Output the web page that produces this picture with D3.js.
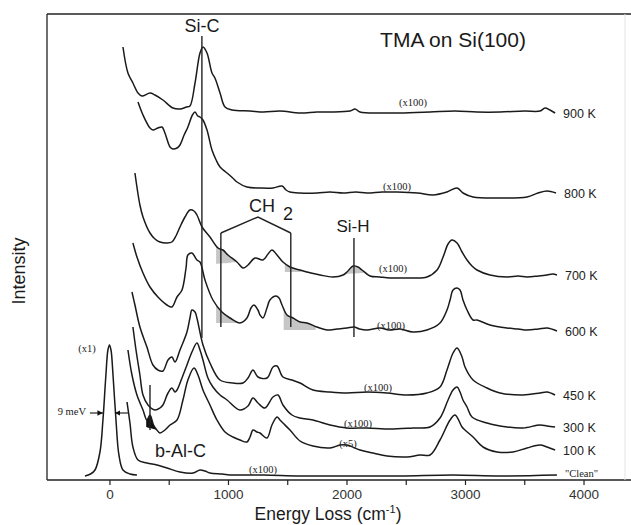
<!DOCTYPE html>
<html>
<head>
<meta charset="utf-8">
<script src="https://cdn.jsdelivr.net/npm/d3@7"></script>
<style>
  body { margin: 0; background: #fff; }
  svg { display: block; }
  .sans { font-family: "Liberation Sans", Arial, Helvetica, sans-serif; }
  .serif { font-family: "Liberation Serif", "Times New Roman", serif; }
</style>
</head>
<body>
<div id="chart"></div>
<script>
// HREELS spectra, [energy loss (cm-1), intensity (arb. units, stacked)]
const k900 = [[114,433],[156,407],[198,397],[241,387],[274,384],[342,387],[384,385],[451,380],[536,372],[595,371],[650,373],[679,374],[722,397],[764,427],[789,433],[823,427],[865,407],[890,402],[933,387],[975,373],[1034,370],[1186,369],[1300,368],[1439,369],[1608,367],[1750,368],[1861,368],[2030,369],[2072,371],[2114,368],[2300,367],[2452,367],[2705,368],[2916,369],[3100,368],[3296,368],[3500,369],[3633,369],[3675,372],[3717,370],[3760,367]];
const k800 = [[241,378],[283,365],[342,352],[367,350],[409,352],[443,353],[468,347],[511,333],[536,331],[570,332],[595,335],[630,345],[662,353],[700,365],[722,368],[745,364],[764,363],[789,360],[823,350],[865,330],[900,320],[933,313],[992,307],[1040,302],[1076,298],[1160,293],[1270,292],[1380,292],[1456,294],[1490,290],[1523,288],[1608,287],[1751,287],[1860,288],[1971,287],[2080,288],[2173,287],[2300,288],[2426,288],[2600,287],[2730,285],[2848,288],[2933,292],[2983,287],[3068,283],[3296,282],[3523,283],[3616,287],[3692,289],[3768,287]];
const k700 = [[215,307],[257,275],[283,263],[342,247],[384,241],[426,238],[485,237],[527,238],[561,244],[595,253],[637,263],[679,270],[713,269],[738,265],[781,253],[848,243],[916,232],[958,230],[1000,225],[1076,218],[1127,212],[1169,215],[1228,222],[1295,220],[1338,226],[1371,230],[1414,225],[1464,218],[1523,213],[1608,210],[1700,207],[1777,205],[1886,203],[1971,205],[2004,208],[2055,214],[2097,213],[2131,210],[2198,204],[2280,203],[2367,202],[2461,202],[2561,202],[2679,203],[2764,210],[2815,223],[2857,236],[2890,240],[2933,237],[2975,228],[3017,220],[3059,214],[3101,210],[3211,205],[3355,203],[3450,204],[3523,203],[3620,204],[3692,205],[3740,206],[3776,205]];
const k600 = [[198,237],[232,223],[283,207],[342,193],[409,183],[485,175],[527,173],[570,183],[612,190],[646,212],[662,225],[696,227],[738,220],[764,218],[806,200],[873,180],[949,168],[1017,162],[1101,157],[1160,162],[1194,172],[1219,175],[1253,170],[1270,165],[1295,162],[1329,172],[1354,180],[1405,184],[1431,182],[1456,175],[1498,165],[1549,162],[1608,158],[1667,157],[1750,153],[1836,150],[1920,151],[2004,152],[2063,153],[2110,151],[2173,150],[2283,152],[2360,150],[2452,151],[2561,148],[2679,150],[2789,157],[2848,170],[2874,180],[2899,190],[2933,192],[2958,190],[2983,180],[3017,170],[3068,160],[3101,160],[3211,155],[3355,152],[3450,151],[3523,150],[3620,151],[3692,152],[3776,149]];
const k450 = [[190,188],[215,175],[257,153],[316,133],[367,115],[409,110],[451,109],[494,120],[527,123],[553,118],[595,130],[654,148],[679,162],[696,170],[722,168],[738,162],[789,135],[848,117],[933,100],[1042,97],[1127,97],[1169,102],[1211,110],[1253,103],[1329,102],[1380,113],[1414,114],[1464,103],[1540,100],[1608,97],[1717,90],[1861,88],[2004,87],[2173,88],[2342,87],[2511,85],[2679,87],[2789,93],[2848,110],[2899,127],[2933,132],[2975,123],[3000,113],[3068,100],[3186,92],[3296,87],[3490,85],[3633,87],[3692,88],[3760,85]];
const k300 = [[198,153],[224,130],[257,105],[283,85],[325,75],[384,70],[426,72],[451,75],[494,87],[527,92],[553,88],[570,90],[612,102],[654,115],[696,128],[738,137],[764,130],[789,120],[831,102],[873,93],[933,85],[992,80],[1101,70],[1169,74],[1211,82],[1253,77],[1312,72],[1380,83],[1422,85],[1464,75],[1540,65],[1608,62],[1717,60],[1861,55],[2004,52],[2173,52],[2367,51],[2561,52],[2705,53],[2789,62],[2857,80],[2899,90],[2933,93],[2958,88],[2983,80],[3017,73],[3059,63],[3186,57],[3355,53],[3490,52],[3633,55],[3692,54],[3760,53]];
const k100 = [[156,130],[190,105],[232,85],[283,70],[316,60],[342,65],[372,55],[400,50],[426,47],[468,50],[511,55],[570,60],[620,80],[662,100],[713,112],[747,105],[789,90],[848,75],[907,60],[975,48],[1042,43],[1101,40],[1160,38],[1186,43],[1211,50],[1245,48],[1270,47],[1329,42],[1371,55],[1414,63],[1439,60],[1464,57],[1523,50],[1608,39],[1717,34],[1861,32],[1945,35],[2004,35],[2114,30],[2224,27],[2342,24],[2511,23],[2620,25],[2705,25],[2789,40],[2874,60],[2916,65],[2975,53],[3000,50],[3068,43],[3152,33],[3270,28],[3405,28],[3523,32],[3633,35],[3692,33],[3760,30]];
const kClean = [[148,78],[173,57],[198,33],[241,20],[316,17],[401,15],[485,12],[595,8],[705,7],[764,10],[806,9],[848,7],[950,6],[1042,5],[1300,5],[1608,4],[2000,4],[2452,4],[2900,5],[3296,4],[3776,5]];
const elastic = [[-207,4],[-160,6],[-122,10],[-80,28],[-55,60],[-30,105],[-13,130],[0,135],[13,130],[30,105],[55,60],[80,25],[114,10],[173,6],[232,5]];

const tempLabels = ["900 K", "800 K", "700 K", "600 K", "450 K", "300 K", "100 K", "\"Clean\""];
const gainLabels = ["(x100)", "(x100)", "(x100)", "(x100)", "(x100)", "(x100)", "(x5)", "(x100)"];
const seriesData = [k900, k800, k700, k600, k450, k300, k100, kClean];

// shaded peak areas: series index, from, to (cm-1), baseline intensity at both ends
const shades = [[2, 900, 1080, 216, 218], [2, 1480, 1620, 208, 208], [2, 1990, 2140, 206, 207],
                [3, 900, 1100, 157, 157], [3, 1470, 1740, 150, 150]];
const alcShade = [6, 310, 400, 53, 50];

// mode markers: energy, top, bottom
const modeLines = [[780, 444, 142], [940, 247, 153], [1530, 247, 153], [2063, 242, 143], [342, 95, 50]];
const ch2Bracket = [[940, 247], [1253, 263], [1530, 247]];
const xTicks = [0, 500, 1000, 1500, 2000, 2500, 3000, 3500, 4000];

const width = 631, height = 525;
const x = d3.scaleLinear().domain([-527, 4350]).range([47, 625]);
const y = d3.scaleLinear().domain([0, 466]).range([480, 14]);

const svg = d3.select("#chart").append("svg")
    .attr("width", width)
    .attr("height", height);

svg.append("defs").append("marker")
    .attr("id", "arrow")
    .attr("viewBox", "0 0 10 10")
    .attr("refX", 10).attr("refY", 5)
    .attr("markerWidth", 5).attr("markerHeight", 5)
    .attr("orient", "auto")
    .append("path")
    .attr("d", "M0,0L10,5L0,10z")
    .attr("fill", "#111");

// frame
const frame = svg.append("g").attr("stroke", "#222").attr("stroke-width", 1.3);
frame.append("line").attr("x1", x.range()[0]).attr("x2", x.range()[0]).attr("y1", y.range()[1]).attr("y2", y(0));
frame.append("line").attr("x1", x.range()[0]).attr("x2", width).attr("y1", y.range()[1]).attr("y2", y.range()[1]);
frame.append("line").attr("x1", x.range()[0]).attr("x2", width).attr("y1", y(0)).attr("y2", y(0));
svg.append("line").attr("x1", x.range()[1]).attr("x2", x.range()[1]).attr("y1", y.range()[1]).attr("y2", y(0))
    .attr("stroke", "#e4e4e4");

// x axis
svg.append("g")
    .attr("transform", `translate(0,${y(0)})`)
    .call(d3.axisBottom(x).tickValues(xTicks).tickSize(5).tickPadding(4)
        .tickFormat(d => d % 1000 === 0 ? d : ""))
    .call(g => g.select(".domain").remove())
    .call(g => g.selectAll(".tick line").attr("stroke", "#222").attr("stroke-width", 1.2))
    .call(g => g.selectAll(".tick text").attr("class", "sans")
        .attr("font-size", 13.5).attr("fill", "#333"));

const interp = (data, e) => {
    for (let i = 1; i < data.length; i++) {
        if (data[i][0] >= e) {
            const a = data[i - 1], b = data[i];
            return a[1] + (b[1] - a[1]) * (e - a[0]) / (b[0] - a[0]);
        }
    }
    return data[data.length - 1][1];
};

const area = d3.area()
    .x(d => x(d[0]))
    .y0(d => y(d[2]))
    .y1(d => y(d[1]))
    .curve(d3.curveCatmullRom.alpha(0.5));

function shadePoints(s) {
    const data = seriesData[s[0]];
    const base = e => s[3] + (s[4] - s[3]) * (e - s[1]) / (s[2] - s[1]);
    const pts = [[s[1], interp(data, s[1]), base(s[1])]];
    data.filter(d => d[0] > s[1] && d[0] < s[2]).forEach(d => pts.push([d[0], d[1], base(d[0])]));
    pts.push([s[2], interp(data, s[2]), base(s[2])]);
    return pts;
}

svg.append("g").selectAll("path")
    .data(shades)
    .enter()
    .append("path")
    .attr("d", d => area(shadePoints(d)))
    .attr("fill", "#b8b8b8")
    .attr("opacity", 0.8);

svg.append("path")
    .attr("d", area(shadePoints(alcShade)))
    .attr("fill", "#111");

// spectra
const line = d3.line()
    .x(d => x(d[0]))
    .y(d => y(d[1]))
    .curve(d3.curveCatmullRom.alpha(0.5));

svg.append("g").selectAll("path")
    .data(seriesData.concat([elastic]))
    .enter()
    .append("path")
    .attr("d", line)
    .attr("fill", "none")
    .attr("stroke", "#1a1a1a")
    .attr("stroke-width", 1.5)
    .attr("stroke-linejoin", "round");

// temperature labels at the right end of each trace
svg.append("g").selectAll("text")
    .data(seriesData)
    .enter()
    .append("text")
    .attr("class", (d, i) => i === 7 ? "serif" : "sans")
    .attr("x", d => x(d[d.length - 1][0]) + 8)
    .attr("y", (d, i) => i === 7 ? y(d[d.length - 1][1]) + 2 : y(d[d.length - 1][1]) + 4.5)
    .attr("font-size", (d, i) => i === 7 ? 10.5 : 12.5)
    .attr("fill", "#222")
    .text((d, i) => tempLabels[i]);

// gain factors
const gainPos = [[2561, 374], [2426, 290], [2392, 208], [2376, 151], [2266, 89], [2097, 53], [2013, 33], [1295, 7]];
svg.append("g").selectAll("text")
    .data(gainLabels)
    .enter()
    .append("text")
    .attr("class", "serif")
    .attr("x", (d, i) => x(gainPos[i][0]))
    .attr("y", (d, i) => y(gainPos[i][1]))
    .attr("text-anchor", "middle")
    .attr("font-size", 10.5)
    .attr("fill", "#222")
    .text(d => d);

svg.append("text").attr("class", "serif")
    .attr("x", x(-190)).attr("y", y(128))
    .attr("text-anchor", "middle").attr("font-size", 10.5).attr("fill", "#222")
    .text("(x1)");

svg.append("text").attr("class", "serif")
    .attr("x", x(-198)).attr("y", y(65))
    .attr("text-anchor", "end").attr("font-size", 10.5).attr("fill", "#222")
    .text("9 meV");

// resolution arrows
const arrows = [[-165, -55], [156, 46]];
svg.append("g").selectAll("line")
    .data(arrows)
    .enter()
    .append("line")
    .attr("x1", d => x(d[0])).attr("x2", d => x(d[1]))
    .attr("y1", y(67)).attr("y2", y(67))
    .attr("stroke", "#111").attr("stroke-width", 1.1)
    .attr("marker-end", "url(#arrow)");

// mode marker lines
svg.append("g").selectAll("line")
    .data(modeLines)
    .enter()
    .append("line")
    .attr("x1", d => x(d[0])).attr("x2", d => x(d[0]))
    .attr("y1", d => y(d[1])).attr("y2", d => y(d[2]))
    .attr("stroke", "#222").attr("stroke-width", 1.4);

svg.append("path")
    .attr("d", d3.line().x(d => x(d[0])).y(d => y(d[1]))(ch2Bracket))
    .attr("fill", "none").attr("stroke", "#222").attr("stroke-width", 1.4);

// annotation labels
const notes = [
    { t: "Si-C", e: 780, v: 448, anchor: "middle", size: 18 },
    { t: "CH", e: 1177, v: 268, anchor: "start", size: 18 },
    { t: "2", e: 1464, v: 260, anchor: "start", size: 18 },
    { t: "Si-H", e: 2055, v: 248, anchor: "middle", size: 17 },
    { t: "b-Al-C", e: 384, v: 23, anchor: "start", size: 18 },
    { t: "TMA on Si(100)", e: 2899, v: 433, anchor: "middle", size: 21 }
];
svg.append("g").selectAll("text")
    .data(notes)
    .enter()
    .append("text")
    .attr("class", "sans")
    .attr("x", d => x(d.e)).attr("y", d => y(d.v))
    .attr("text-anchor", d => d.anchor)
    .attr("font-size", d => d.size)
    .attr("fill", "#1a1a1a")
    .text(d => d.t);

// axis titles
const xTitle = svg.append("text").attr("class", "sans")
    .attr("x", 328).attr("y", 520)
    .attr("text-anchor", "middle").attr("font-size", 17.5).attr("fill", "#1a1a1a");
xTitle.append("tspan").text("Energy Loss (cm");
xTitle.append("tspan").attr("font-size", 11).attr("dy", -7).text("-1");
xTitle.append("tspan").attr("dy", 7).text(")");

svg.append("text").attr("class", "sans")
    .attr("transform", "translate(25,271) rotate(-90)")
    .attr("text-anchor", "middle").attr("font-size", 18).attr("fill", "#1a1a1a")
    .text("Intensity");
</script>
</body>
</html>
